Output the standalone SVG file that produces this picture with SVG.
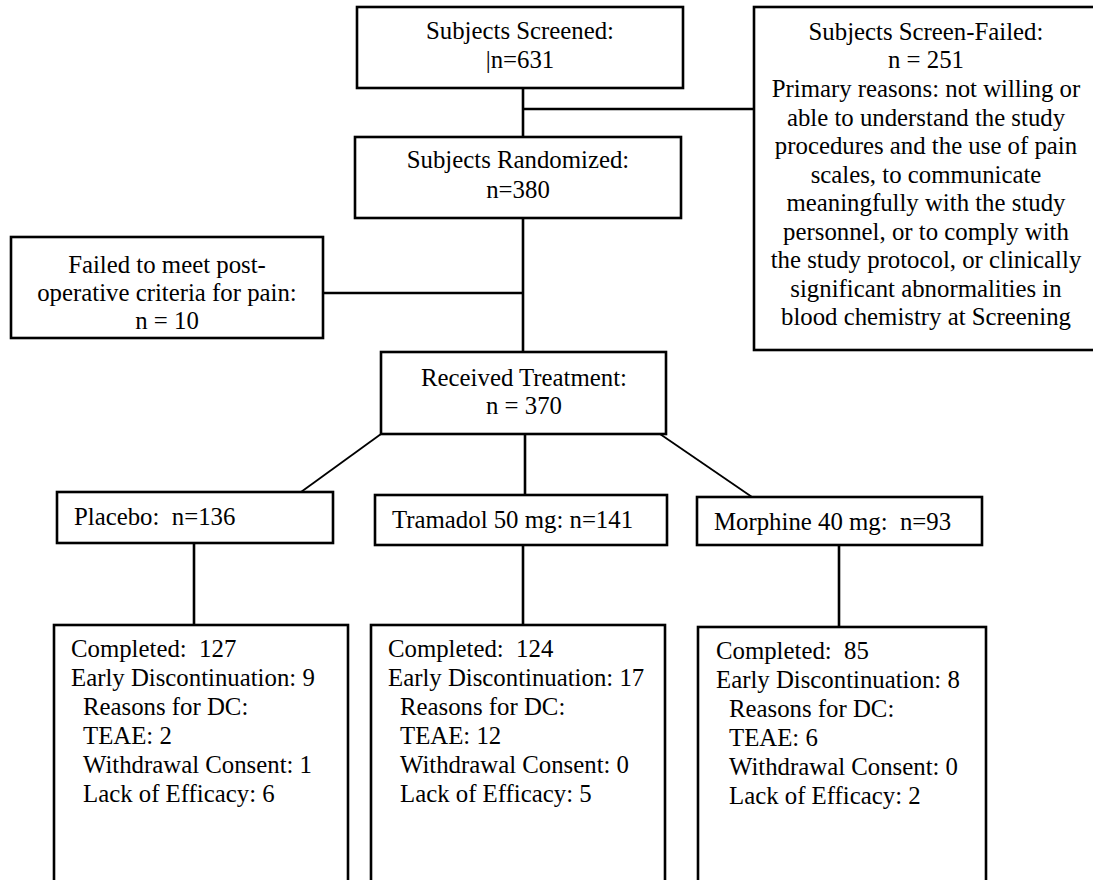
<svg xmlns="http://www.w3.org/2000/svg" width="1093" height="880" viewBox="0 0 1093 880">
<style>
.box{fill:#fff;stroke:#000;stroke-width:2.6}
.ln{stroke:#000;stroke-width:2.6;fill:none}
.dg{stroke:#000;stroke-width:1.8;fill:none}
.t{font-size:24.8px;fill:#000}
.c{text-anchor:middle}
</style>
<rect width="1093" height="880" fill="#fff"/>
<g id="connectors">
<line class="ln" x1="523" y1="88" x2="523" y2="137"/>
<line class="ln" x1="523" y1="109" x2="754" y2="109"/>
<line class="ln" x1="523" y1="218" x2="523" y2="352"/>
<line class="ln" x1="323" y1="293" x2="523" y2="293"/>
<line class="dg" x1="381" y1="434" x2="301" y2="492"/>
<line class="ln" x1="525" y1="434" x2="525" y2="495"/>
<line class="dg" x1="660" y1="434" x2="752" y2="497"/>
<line class="ln" x1="194" y1="543" x2="194" y2="625"/>
<line class="ln" x1="523" y1="545" x2="523" y2="625"/>
<line class="ln" x1="839" y1="545" x2="839" y2="627"/>
</g>
<g font-family="Liberation Serif, Tinos, Times New Roman, DejaVu Serif, serif" class="t">
<g id="screened">
<rect class="box" x="357" y="7" width="326" height="81"/>
<text class="c" x="520" y="39">Subjects Screened:</text>
<text class="c" x="520" y="68">|n=631</text>
</g>
<g id="screenfailed">
<rect class="box" x="754" y="7" width="345" height="343"/>
<text class="c" x="926" y="40">Subjects Screen-Failed:</text>
<text class="c" x="926" y="68">n = 251</text>
<text class="c" x="926" y="97">Primary reasons: not willing or</text>
<text class="c" x="926" y="125.5">able to understand the study</text>
<text class="c" x="926" y="154">procedures and the use of pain</text>
<text class="c" x="926" y="182.5">scales, to communicate</text>
<text class="c" x="926" y="211">meaningfully with the study</text>
<text class="c" x="926" y="239.5">personnel, or to comply with</text>
<text class="c" x="926" y="268">the study protocol, or clinically</text>
<text class="c" x="926" y="296.5">significant abnormalities in</text>
<text class="c" x="926" y="325">blood chemistry at Screening</text>
</g>
<g id="randomized">
<rect class="box" x="355" y="137" width="326" height="81"/>
<text class="c" x="518" y="168">Subjects Randomized:</text>
<text class="c" x="518" y="198">n=380</text>
</g>
<g id="failedpost">
<rect class="box" x="11" y="237" width="312" height="101"/>
<text class="c" x="167" y="273">Failed to meet post-</text>
<text class="c" x="167" y="301">operative criteria for pain:</text>
<text class="c" x="167" y="329">n = 10</text>
</g>
<g id="received">
<rect class="box" x="381" y="352" width="285" height="82"/>
<text class="c" x="524" y="386">Received Treatment:</text>
<text class="c" x="524" y="414">n = 370</text>
</g>
<g id="placebo">
<rect class="box" x="57" y="492" width="276" height="51"/>
<text x="74" y="525" xml:space="preserve">Placebo:  n=136</text>
</g>
<g id="tramadol">
<rect class="box" x="375" y="495" width="292" height="50"/>
<text x="392" y="528">Tramadol 50 mg: n=141</text>
</g>
<g id="morphine">
<rect class="box" x="697" y="497" width="285" height="48"/>
<text x="714" y="530" xml:space="preserve">Morphine 40 mg:  n=93</text>
</g>
<g id="placebo-outcome">
<rect class="box" x="54" y="625" width="294" height="270"/>
<text x="71" y="657" xml:space="preserve">Completed:  127</text>
<text x="71" y="686">Early Discontinuation: 9</text>
<text x="83" y="715">Reasons for DC:</text>
<text x="83" y="744">TEAE: 2</text>
<text x="83" y="773">Withdrawal Consent: 1</text>
<text x="83" y="802">Lack of Efficacy: 6</text>
</g>
<g id="tramadol-outcome">
<rect class="box" x="371" y="625" width="294" height="270"/>
<text x="388" y="657" xml:space="preserve">Completed:  124</text>
<text x="388" y="686">Early Discontinuation: 17</text>
<text x="400" y="715">Reasons for DC:</text>
<text x="400" y="744">TEAE: 12</text>
<text x="400" y="773">Withdrawal Consent: 0</text>
<text x="400" y="802">Lack of Efficacy: 5</text>
</g>
<g id="morphine-outcome">
<rect class="box" x="698" y="627" width="288" height="270"/>
<text x="716" y="659" xml:space="preserve">Completed:  85</text>
<text x="716" y="688">Early Discontinuation: 8</text>
<text x="729" y="717">Reasons for DC:</text>
<text x="729" y="746">TEAE: 6</text>
<text x="729" y="775">Withdrawal Consent: 0</text>
<text x="729" y="804">Lack of Efficacy: 2</text>
</g>
</g>
</svg>
